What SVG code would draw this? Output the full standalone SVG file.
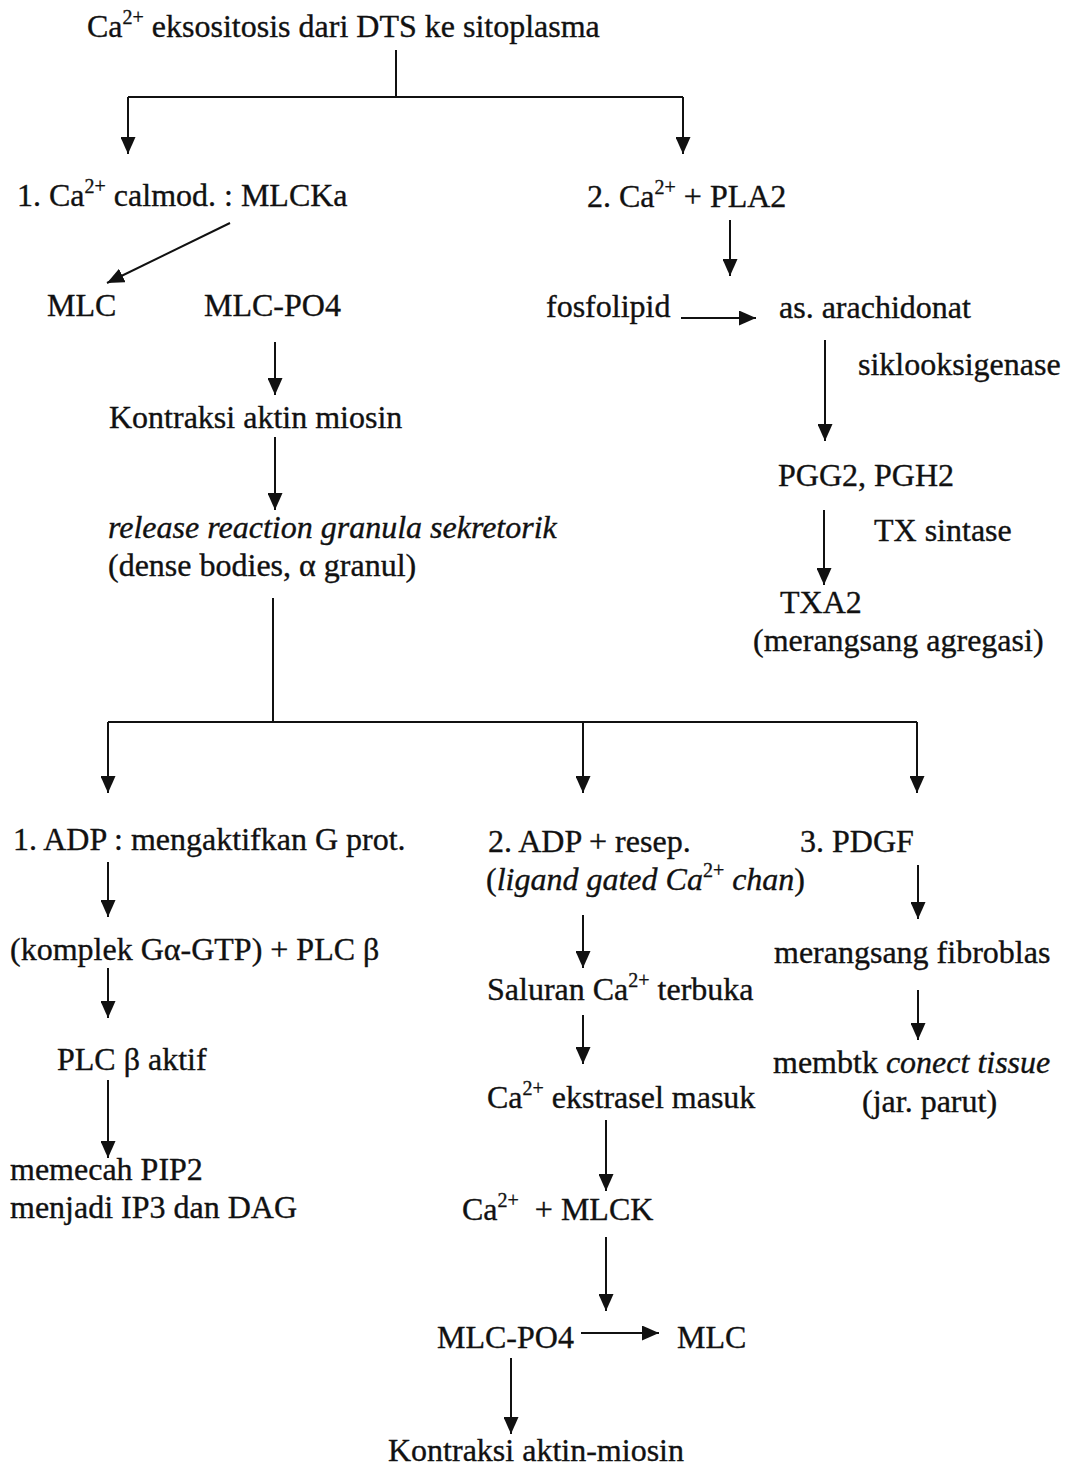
<svg xmlns="http://www.w3.org/2000/svg" width="1068" height="1466" viewBox="0 0 1068 1466">
  <style>
    text { font-family: "Liberation Serif", "Times New Roman", serif; font-size: 32px; fill: #111; stroke: #111; stroke-width: 0.35; }
    .it { font-style: italic; }
    .sup { font-size: 20px; }
    .wire { fill: none; stroke: #111; stroke-width: 2; }
    .arrow { fill: none; stroke: #111; stroke-width: 2; marker-end: url(#head); }
  </style>
  <defs>
    <marker id="head" markerUnits="userSpaceOnUse" markerWidth="18" markerHeight="15" refX="17" refY="7.5" orient="auto">
      <path d="M0,0 L17,7.5 L0,15 Z" fill="#111"/>
    </marker>
  </defs>
  <rect width="1068" height="1466" fill="#fff"/>

  <g id="connectors">
    <!-- top split -->
    <path class="wire" d="M396,50 V97 M128,97 H683"/>
    <path class="arrow" d="M128,97 V154"/>
    <path class="arrow" d="M683,97 V154"/>
    <!-- calmodulin branch -->
    <path class="arrow" d="M230,223 L107,283"/>
    <path class="arrow" d="M275,342 V395"/>
    <path class="arrow" d="M275,437 V510"/>
    <!-- PLA2 branch -->
    <path class="arrow" d="M730,220 V276"/>
    <path class="arrow" d="M681,318 H756"/>
    <path class="arrow" d="M825,340 V441"/>
    <path class="arrow" d="M824,510 V585"/>
    <!-- granule release split -->
    <path class="wire" d="M273,598 V722 M108,722 H917"/>
    <path class="arrow" d="M108,722 V793"/>
    <path class="arrow" d="M583,722 V793"/>
    <path class="arrow" d="M917,722 V793"/>
    <!-- ADP / G protein -->
    <path class="arrow" d="M108,862 V917"/>
    <path class="arrow" d="M108,968 V1018"/>
    <path class="arrow" d="M108,1080 V1158"/>
    <!-- ADP / receptor channel -->
    <path class="arrow" d="M583,915 V968"/>
    <path class="arrow" d="M583,1015 V1064"/>
    <path class="arrow" d="M606,1120 V1191"/>
    <path class="arrow" d="M606,1237 V1311"/>
    <path class="arrow" d="M581,1333 H659"/>
    <path class="arrow" d="M511,1358 V1434"/>
    <!-- PDGF -->
    <path class="arrow" d="M918,865 V919"/>
    <path class="arrow" d="M918,990 V1040"/>
  </g>

  <g id="n-exocytosis"><text x="87" y="37">Ca<tspan class="sup" dy="-13">2+</tspan><tspan dy="13"> eksositosis dari DTS ke sitoplasma</tspan></text></g>
  <g id="n-calmod"><text x="17" y="206">1. Ca<tspan class="sup" dy="-13">2+</tspan><tspan dy="13"> calmod. : MLCKa</tspan></text></g>
  <g id="n-pla2"><text x="587" y="207">2. Ca<tspan class="sup" dy="-13">2+</tspan><tspan dy="13"> + PLA2</tspan></text></g>
  <g id="n-mlc1"><text x="47" y="316">MLC</text></g>
  <g id="n-mlcpo4-1"><text x="204" y="316">MLC-PO4</text></g>
  <g id="n-fosfolipid"><text x="546" y="317">fosfolipid</text></g>
  <g id="n-arachidonat"><text x="779" y="318">as. arachidonat</text></g>
  <g id="n-cox"><text x="858" y="375">siklooksigenase</text></g>
  <g id="n-kontraksi1"><text x="109" y="428">Kontraksi aktin miosin</text></g>
  <g id="n-pgg2"><text x="778" y="486">PGG2, PGH2</text></g>
  <g id="n-txsintase"><text x="874" y="541">TX sintase</text></g>
  <g id="n-release">
    <text class="it" x="108" y="538">release reaction granula sekretorik</text>
    <text x="108" y="576">(dense bodies, α granul)</text>
  </g>
  <g id="n-txa2">
    <text x="780" y="613">TXA2</text>
    <text x="753" y="651">(merangsang agregasi)</text>
  </g>

  <g id="n-adp1"><text x="13" y="850">1. ADP : mengaktifkan G prot.</text></g>
  <g id="n-adp2">
    <text x="488" y="852">2. ADP + resep.</text>
    <text x="486" y="890">(<tspan class="it">ligand gated Ca</tspan><tspan class="sup" dy="-13">2+</tspan><tspan class="it" dy="13"> chan</tspan>)</text>
  </g>
  <g id="n-pdgf"><text x="800" y="852">3. PDGF</text></g>
  <g id="n-gprot"><text x="10" y="960">(komplek Gα-GTP) + PLC β</text></g>
  <g id="n-fibroblas"><text x="774" y="963">merangsang fibroblas</text></g>
  <g id="n-saluran"><text x="487" y="1000">Saluran Ca<tspan class="sup" dy="-13">2+</tspan><tspan dy="13"> terbuka</tspan></text></g>
  <g id="n-plcaktif"><text x="57" y="1070">PLC β aktif</text></g>
  <g id="n-tissue">
    <text x="773" y="1073">membtk <tspan class="it">conect tissue</tspan></text>
    <text x="862" y="1112">(jar. parut)</text>
  </g>
  <g id="n-ekstrasel"><text x="487" y="1108">Ca<tspan class="sup" dy="-13">2+</tspan><tspan dy="13"> ekstrasel masuk</tspan></text></g>
  <g id="n-pip2">
    <text x="10" y="1180">memecah PIP2</text>
    <text x="10" y="1218">menjadi IP3 dan DAG</text>
  </g>
  <g id="n-mlck"><text x="462" y="1220">Ca<tspan class="sup" dy="-13">2+</tspan><tspan dy="13" xml:space="preserve">  + MLCK</tspan></text></g>
  <g id="n-mlcpo4-2"><text x="437" y="1348">MLC-PO4</text></g>
  <g id="n-mlc2"><text x="677" y="1348">MLC</text></g>
  <g id="n-kontraksi2"><text x="388" y="1461">Kontraksi aktin-miosin</text></g>
</svg>
